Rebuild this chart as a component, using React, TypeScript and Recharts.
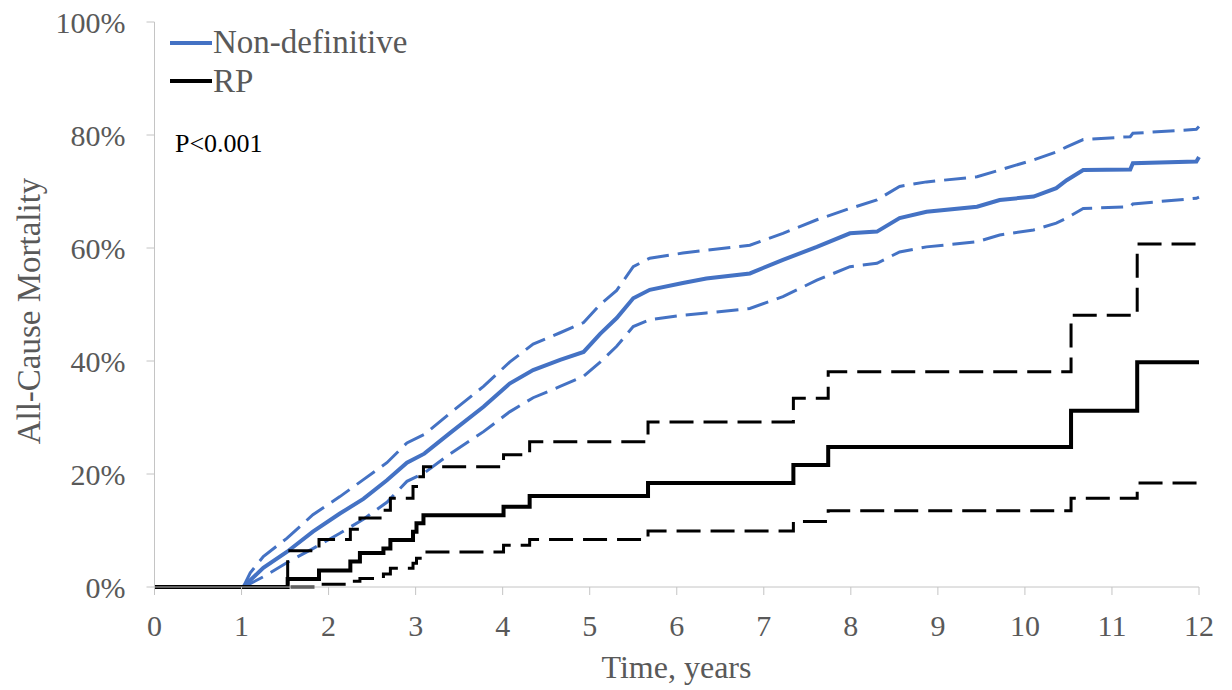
import { LineChart, Line, XAxis, YAxis } from "recharts";

// Non-definitive (blue): Kaplan-Meier estimate with 95% CI
const ndTimes = [1.02, 1.1, 1.25, 1.52, 1.82, 2.13, 2.4, 2.67, 2.9, 3.1, 3.39, 3.78, 4.08, 4.35, 4.66, 4.93, 5.12, 5.31, 5.5, 5.69, 6.07, 6.34, 6.84, 7.22, 7.61, 7.99, 8.3, 8.56, 8.87, 9.45, 9.71, 10.1, 10.36, 10.48, 10.67, 11.21, 11.24, 11.97, 12];
const ndValues = [0, 1.2, 3.4, 6.2, 9.8, 13.0, 15.6, 18.9, 22.0, 23.6, 27.2, 31.9, 36.0, 38.4, 40.2, 41.6, 44.8, 47.6, 51.1, 52.6, 53.8, 54.6, 55.5, 57.9, 60.2, 62.6, 62.9, 65.3, 66.4, 67.3, 68.5, 69.1, 70.6, 72.0, 73.8, 73.9, 75.0, 75.3, 76.1];
const ndUpper = [0, 2.5, 5.4, 8.6, 12.8, 16.0, 19.0, 22.0, 25.5, 27.0, 30.7, 35.5, 39.8, 43.0, 45.0, 46.8, 50.0, 52.5, 56.7, 58.2, 59.1, 59.6, 60.5, 62.6, 65.0, 67.0, 68.5, 70.9, 71.7, 72.6, 73.8, 75.6, 77.0, 77.9, 79.2, 79.7, 80.3, 81.0, 81.5];
const ndLower = [0, 0.6, 1.8, 4.3, 6.8, 9.5, 12.0, 15.0, 18.7, 20.2, 23.5, 27.5, 31.0, 33.5, 35.5, 37.3, 39.8, 42.6, 46.1, 47.3, 48.1, 48.5, 49.3, 51.4, 54.3, 56.7, 57.3, 59.3, 60.2, 61.1, 62.3, 63.2, 64.4, 65.3, 67.0, 67.3, 67.8, 68.8, 69.0];

// RP (black): step function with 95% CI
const rpTimes = [0, 1.53, 1.89, 2.25, 2.36, 2.63, 2.71, 2.97, 3.01, 3.09, 4.01, 4.31, 5.67, 7.34, 7.74, 10.53, 11.29, 12];
const rpValues = [0, 1.4, 2.9, 4.5, 6.0, 6.8, 8.3, 9.8, 11.3, 12.7, 14.2, 16.1, 18.4, 21.6, 24.8, 31.2, 39.8, 39.8];
const rpUpper = [0, 6.4, 8.4, 10.2, 12.2, 13.6, 15.7, 17.8, 19.5, 21.3, 23.4, 25.7, 29.2, 33.4, 38.1, 48.1, 60.7, 60.7];
const rpLower = [0, 0, 0.5, 1.0, 1.5, 2.3, 3.3, 4.2, 5.1, 6.2, 7.4, 8.4, 9.9, 11.6, 13.5, 15.7, 18.4, 18.4];

const xTicks = [0, 1, 2, 3, 4, 5, 6, 7, 8, 9, 10, 11, 12];
const yTicks = [0, 20, 40, 60, 80, 100];

const BLUE = "#4472C4";
const GREY = "#595959";
const AXIS = "#c4c4c4";
const FONT = "'Liberation Serif', 'Times New Roman', serif";

const toRows = (times: number[], values: number[]) =>
  times.map((t, i) => ({ t, v: values[i] }));

export default function App() {
  const lines = [
    { key: "ndLower", data: toRows(ndTimes, ndLower), color: BLUE, width: 3, dash: "22 9", type: "linear" },
    { key: "ndUpper", data: toRows(ndTimes, ndUpper), color: BLUE, width: 3, dash: "22 9", type: "linear" },
    { key: "nd", data: toRows(ndTimes, ndValues), color: BLUE, width: 4, dash: undefined, type: "linear" },
    { key: "rpLower", data: toRows(rpTimes, rpLower), color: "#000", width: 3, dash: "24 10", type: "stepAfter" },
    { key: "rpUpper", data: toRows(rpTimes, rpUpper), color: "#000", width: 3, dash: "24 10", type: "stepAfter" },
    { key: "rp", data: toRows(rpTimes, rpValues), color: "#000", width: 4, dash: undefined, type: "stepAfter" },
  ];

  return (
    <div style={{ position: "absolute", left: 0, top: 0, width: 1232, height: 690, background: "#fff" }}>
      <LineChart width={1232} height={690} margin={{ top: 22, right: 33, bottom: 0, left: 0 }}>
        <XAxis
          type="number"
          dataKey="t"
          domain={[0, 12]}
          ticks={xTicks}
          interval={0}
          height={103}
          stroke={AXIS}
          tickSize={8}
          tickMargin={20}
          tick={{ fill: GREY, fontSize: 30, fontFamily: FONT }}
          allowDuplicatedCategory={false}
        />
        <YAxis
          type="number"
          domain={[0, 100]}
          ticks={yTicks}
          interval={0}
          width={154.5}
          stroke={AXIS}
          tickSize={8}
          tickMargin={21}
          tickFormatter={(v: number) => `${v}%`}
          tick={{ fill: GREY, fontSize: 30, fontFamily: FONT }}
        />
        {lines.map((l) => (
          <Line
            key={l.key}
            data={l.data}
            dataKey="v"
            type={l.type as "linear" | "stepAfter"}
            stroke={l.color}
            strokeWidth={l.width}
            strokeDasharray={l.dash}
            dot={false}
            activeDot={false}
            isAnimationActive={false}
          />
        ))}

        <text x={676.5} y={678} textAnchor="middle" fill={GREY} fontSize={32} fontFamily={FONT}>
          Time, years
        </text>
        <text
          x={40}
          y={311}
          transform="rotate(-90, 40, 311)"
          textAnchor="middle"
          fill={GREY}
          fontSize={33}
          fontFamily={FONT}
        >
          All-Cause Mortality
        </text>

        <line x1={170} y1={43} x2={212} y2={43} stroke={BLUE} strokeWidth={4} />
        <text x={213} y={53} fill={GREY} fontSize={33} fontFamily={FONT}>
          Non-definitive
        </text>
        <line x1={170} y1={81} x2={212} y2={81} stroke="#000" strokeWidth={4} />
        <text x={213} y={92} fill={GREY} fontSize={33} fontFamily={FONT}>
          RP
        </text>
        <text x={175} y={152} fill="#000" fontSize={26} fontFamily={FONT}>
          P&lt;0.001
        </text>
      </LineChart>
    </div>
  );
}
